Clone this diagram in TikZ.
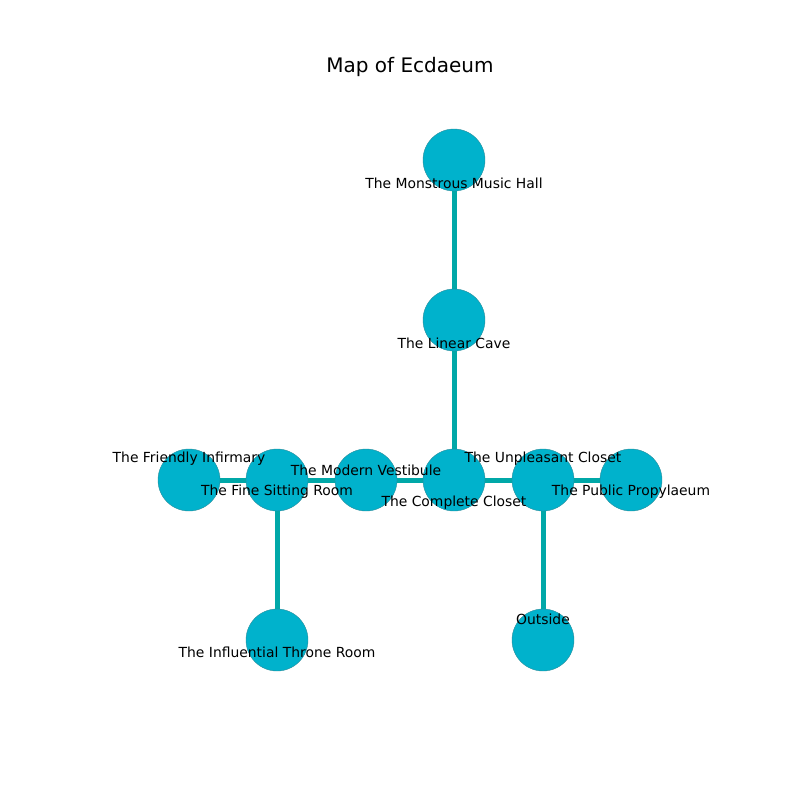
\documentclass[tikz,border=0pt]{standalone}
\usepackage{fontspec}
\setmainfont{DejaVu Sans}
\usepackage{xcolor}
\definecolor{roomfill}{HTML}{00B2CC}
\definecolor{roomline}{HTML}{2A8C9A}
\definecolor{passage}{HTML}{00A8A8}
\tikzset{
  room/.style={circle,fill=roomfill,draw=roomline,line width=0.3pt,minimum size=62\pxu,inner sep=0pt},
  roomname/.style={font=\fontsize{10}{12}\selectfont,inner sep=0pt,yshift=-2\pxu},
  passage/.style={draw=passage,line width=3.6pt}
}
\newlength{\pxu}
\setlength{\pxu}{0.72pt}
\begin{document}
\begin{tikzpicture}[x=0.72pt,y=-0.72pt]
        \useasboundingbox (0,0) rectangle (800,800);
        \node[font=\fontsize{14.4}{17}\selectfont] (title) at (410,67) {Map of Ecdaeum};
        % rooms
        \coordinate (music) at (454,160);
        \coordinate (cave) at (454,320);
        \coordinate (closet) at (454,480);
        \coordinate (vestibule) at (366,480);
        \coordinate (sitting) at (277,480);
        \coordinate (infirmary) at (189,480);
        \coordinate (unpleasant) at (543,480);
        \coordinate (propylaeum) at (631,480);
        \coordinate (throne) at (277,640);
        \coordinate (outside) at (543,640);
        % passages
        \draw[passage](music)--(cave);
        \draw[passage](cave)--(closet);
        \draw[passage](infirmary)--(sitting);
        \draw[passage](sitting)--(vestibule);
        \draw[passage](vestibule)--(closet);
        \draw[passage](closet)--(unpleasant);
        \draw[passage](unpleasant)--(propylaeum);
        \draw[passage](sitting)--(throne);
        \draw[passage](unpleasant)--(outside);
        \foreach \r in {music,cave,closet,vestibule,sitting,infirmary,unpleasant,propylaeum,throne,outside}
          \node[room] (\r-c) at (\r) {};
        % names
        \node[roomname](music-t) at (454,181) {The Monstrous Music Hall};
        \node[roomname](cave-t) at (454,341) {The Linear Cave};
        \node[roomname](closet-t) at (454,501) {The Complete Closet};
        \node[roomname](vestibule-t) at (366,468) {The Modern Vestibule};
        \node[roomname](sitting-t) at (277,490) {The Fine Sitting Room};
        \node[roomname](infirmary-t) at (189,457) {The Friendly Infirmary};
        \node[roomname](unpleasant-t) at (543,457) {The Unpleasant Closet};
        \node[roomname](propylaeum-t) at (631,490) {The Public Propylaeum};
        \node[roomname](throne-t) at (277,650) {The Influential Throne Room};
        \node[roomname](outside-t) at (543,617) {Outside};
\end{tikzpicture}
\end{document}
